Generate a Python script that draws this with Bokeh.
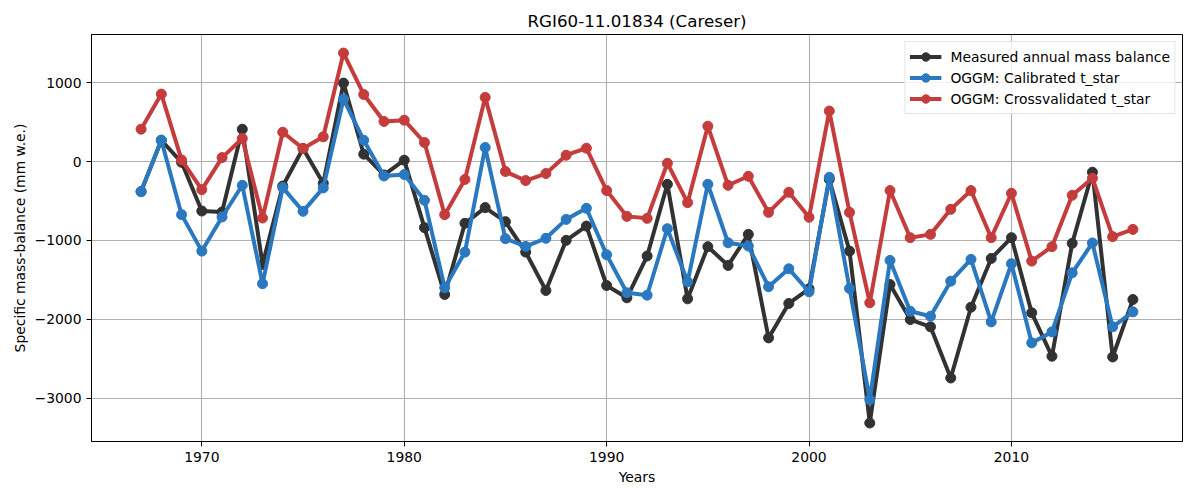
from bokeh.plotting import figure
from bokeh.models import Range1d, FixedTicker, Legend, LegendItem
from bokeh.embed import file_html
from bokeh.resources import INLINE

years = list(range(1967, 2017))

measured = [-380, 270, -10, -627, -640, 410, -1304, -310, 165, -276,
            994, 93, -170, 17, -838, -1685, -783, -584, -762, -1148,
            -1634, -999, -818, -1571, -1727, -1198, -288, -1740, -1079, -1317,
            -923, -2235, -1799, -1613, -225, -1135, -3314, -1558, -2003, -2095,
            -2743, -1846, -1228, -965, -1917, -2468, -1037, -135, -2477, -1749]

calibrated = [-381, 270, -673, -1135, -703, -301, -1549, -330, -631, -334,
              791, 270, -183, -165, -491, -1600, -1148, 178, -978, -1076,
              -973, -733, -593, -1181, -1663, -1694, -851, -1524, -288, -1029,
              -1071, -1587, -1359, -1651, -200, -1609, -3018, -1253, -1897, -1960,
              -1516, -1240, -2032, -1295, -2298, -2159, -1410, -1032, -2095, -1905]

crossval = [410, 855, 20, -356, 50, 292, -716, 372, 165, 313,
            1375, 850, 508, 524, 241, -673, -227, 813, -127, -241,
            -152, 80, 169, -368, -695, -720, -22, -521, 448, -301,
            -187, -644, -390, -707, 640, -644, -1790, -368, -965, -923,
            -606, -368, -965, -402, -1262, -1079, -428, -212, -952, -860]

series_names = ["Measured annual mass balance", "OGGM: Calibrated t_star",
                "OGGM: Crossvalidated t_star"]
series_colors = ["#323232", "#2a78c0", "#c43c3c"]

xticks = [1970, 1980, 1990, 2000, 2010]
yticks = [-3000, -2000, -1000, 0, 1000]

FONT = "DejaVu Sans"

p = figure(frame_width=1091, frame_height=407, output_backend="svg", toolbar_location=None,
           title="RGI60-11.01834 (Careser)",
           x_range=Range1d(1964.55, 2018.45), y_range=Range1d(-3548, 1610),
           min_border_left=91, min_border_right=8, min_border_top=34,
           min_border_bottom=46)

p.title.align = "center"
p.title.text_font = FONT
p.title.text_font_size = "16.7px"
p.title.text_font_style = "normal"
p.title.text_color = "black"
p.title.standoff = 7

p.outline_line_color = "black"
p.outline_line_width = 1
p.outline_line_alpha = 1

p.xaxis.ticker = FixedTicker(ticks=xticks)
p.yaxis.ticker = FixedTicker(ticks=yticks)
p.yaxis.major_label_overrides = {t: str(t).replace("-", "\u2212") for t in yticks}
p.xaxis.axis_label = "Years"
p.yaxis.axis_label = "Specific mass-balance (mm w.e.)"

for ax in (p.xaxis, p.yaxis):
    ax.major_label_text_font = FONT
    ax.major_label_text_font_size = "13.9px"
    ax.major_label_text_color = "black"
    ax.axis_label_text_font = FONT
    ax.axis_label_text_font_size = "13.9px"
    ax.axis_label_text_font_style = "normal"
    ax.axis_label_text_color = "black"
    ax.major_tick_in = 0
    ax.major_tick_out = 5
    ax.major_tick_line_color = "black"
    ax.minor_tick_line_color = None
    ax.axis_line_color = "black"
    ax.major_label_standoff = 5
p.yaxis.axis_label_standoff = 4
p.xaxis.axis_label_standoff = 4

p.grid.grid_line_color = "#b0b0b0"
p.grid.grid_line_width = 1.1

items = []
for name, vals, col in zip(series_names, [measured, calibrated, crossval], series_colors):
    r1 = p.line(years, vals, line_color=col, line_width=4)
    r2 = p.scatter(years, vals, size=10, fill_color=col, line_color=col)
    items.append(LegendItem(label=name, renderers=[r1, r2]))

legend = Legend(items=items, location="top_right")
legend.margin = 7
legend.padding = 4
legend.spacing = 0
legend.label_height = 21
legend.glyph_height = 21
legend.glyph_width = 32
legend.label_standoff = 9
legend.label_text_font = FONT
legend.label_text_font_size = "13.9px"
legend.label_text_color = "black"
legend.background_fill_alpha = 0.8
legend.border_line_color = "#cccccc"
legend.border_line_width = 1
p.add_layout(legend)

open("out.html", "w").write(file_html(p, INLINE))
